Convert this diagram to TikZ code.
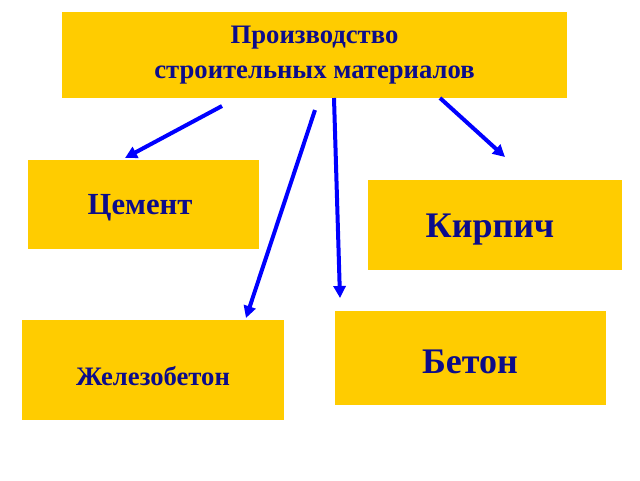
\documentclass[tikz,border=0pt]{standalone}
\usepackage{fontspec}
\setmainfont{Liberation Serif}
\usetikzlibrary{arrows.meta}
\definecolor{boxfill}{HTML}{FFCC00}
\definecolor{txtblue}{HTML}{0C0C8A}
\tikzset{
   every path/.style={>={Triangle[length=9pt,width=9pt]}},
   matbox/.style={fill=boxfill,text=txtblue,font=\bfseries,align=center,inner sep=0pt},
   link/.style={->,draw=blue,line width=3pt},
}
\begin{document}
\begin{tikzpicture}[x=0.75pt,y=-0.75pt]
    \useasboundingbox (0,0) rectangle (640,480);

    \fill[boxfill] (62,12) rectangle (567,98);
    \node[matbox,font=\bfseries\fontsize{20}{26}\selectfont] (prod) at (314.5,55) {Производство\\строительных материалов};

    \fill[boxfill] (28,160) rectangle (259,249);
    \node[matbox,font=\bfseries\fontsize{23}{28}\selectfont] (cem) at (140,208) {Цемент};

    \fill[boxfill] (368,180) rectangle (622,270);
    \node[matbox,font=\bfseries\fontsize{27}{32}\selectfont] (kirp) at (490,230) {Кирпич};

    \fill[boxfill] (335,311) rectangle (606,405);
    \node[matbox,font=\bfseries\fontsize{27}{32}\selectfont] (bet) at (470,362) {Бетон};

    \fill[boxfill] (22,320) rectangle (284,420);
    \node[matbox,font=\bfseries\fontsize{20}{26}\selectfont] (zhb) at (153,376) {Железобетон};

    \coordinate (a1) at (222,106);
    \coordinate (b1) at (125,158);
    \coordinate (a2) at (315,110);
    \coordinate (b2) at (246,318);
    \coordinate (a3) at (334,98);
    \coordinate (b3) at (340,298);
    \coordinate (a4) at (440,98);
    \coordinate (b4) at (505,157);

    \draw[link] (a1) -- (b1);
    \draw[link] (a2) -- (b2);
    \draw[link] (a3) -- (b3);
    \draw[link] (a4) -- (b4);
\end{tikzpicture}
\end{document}
